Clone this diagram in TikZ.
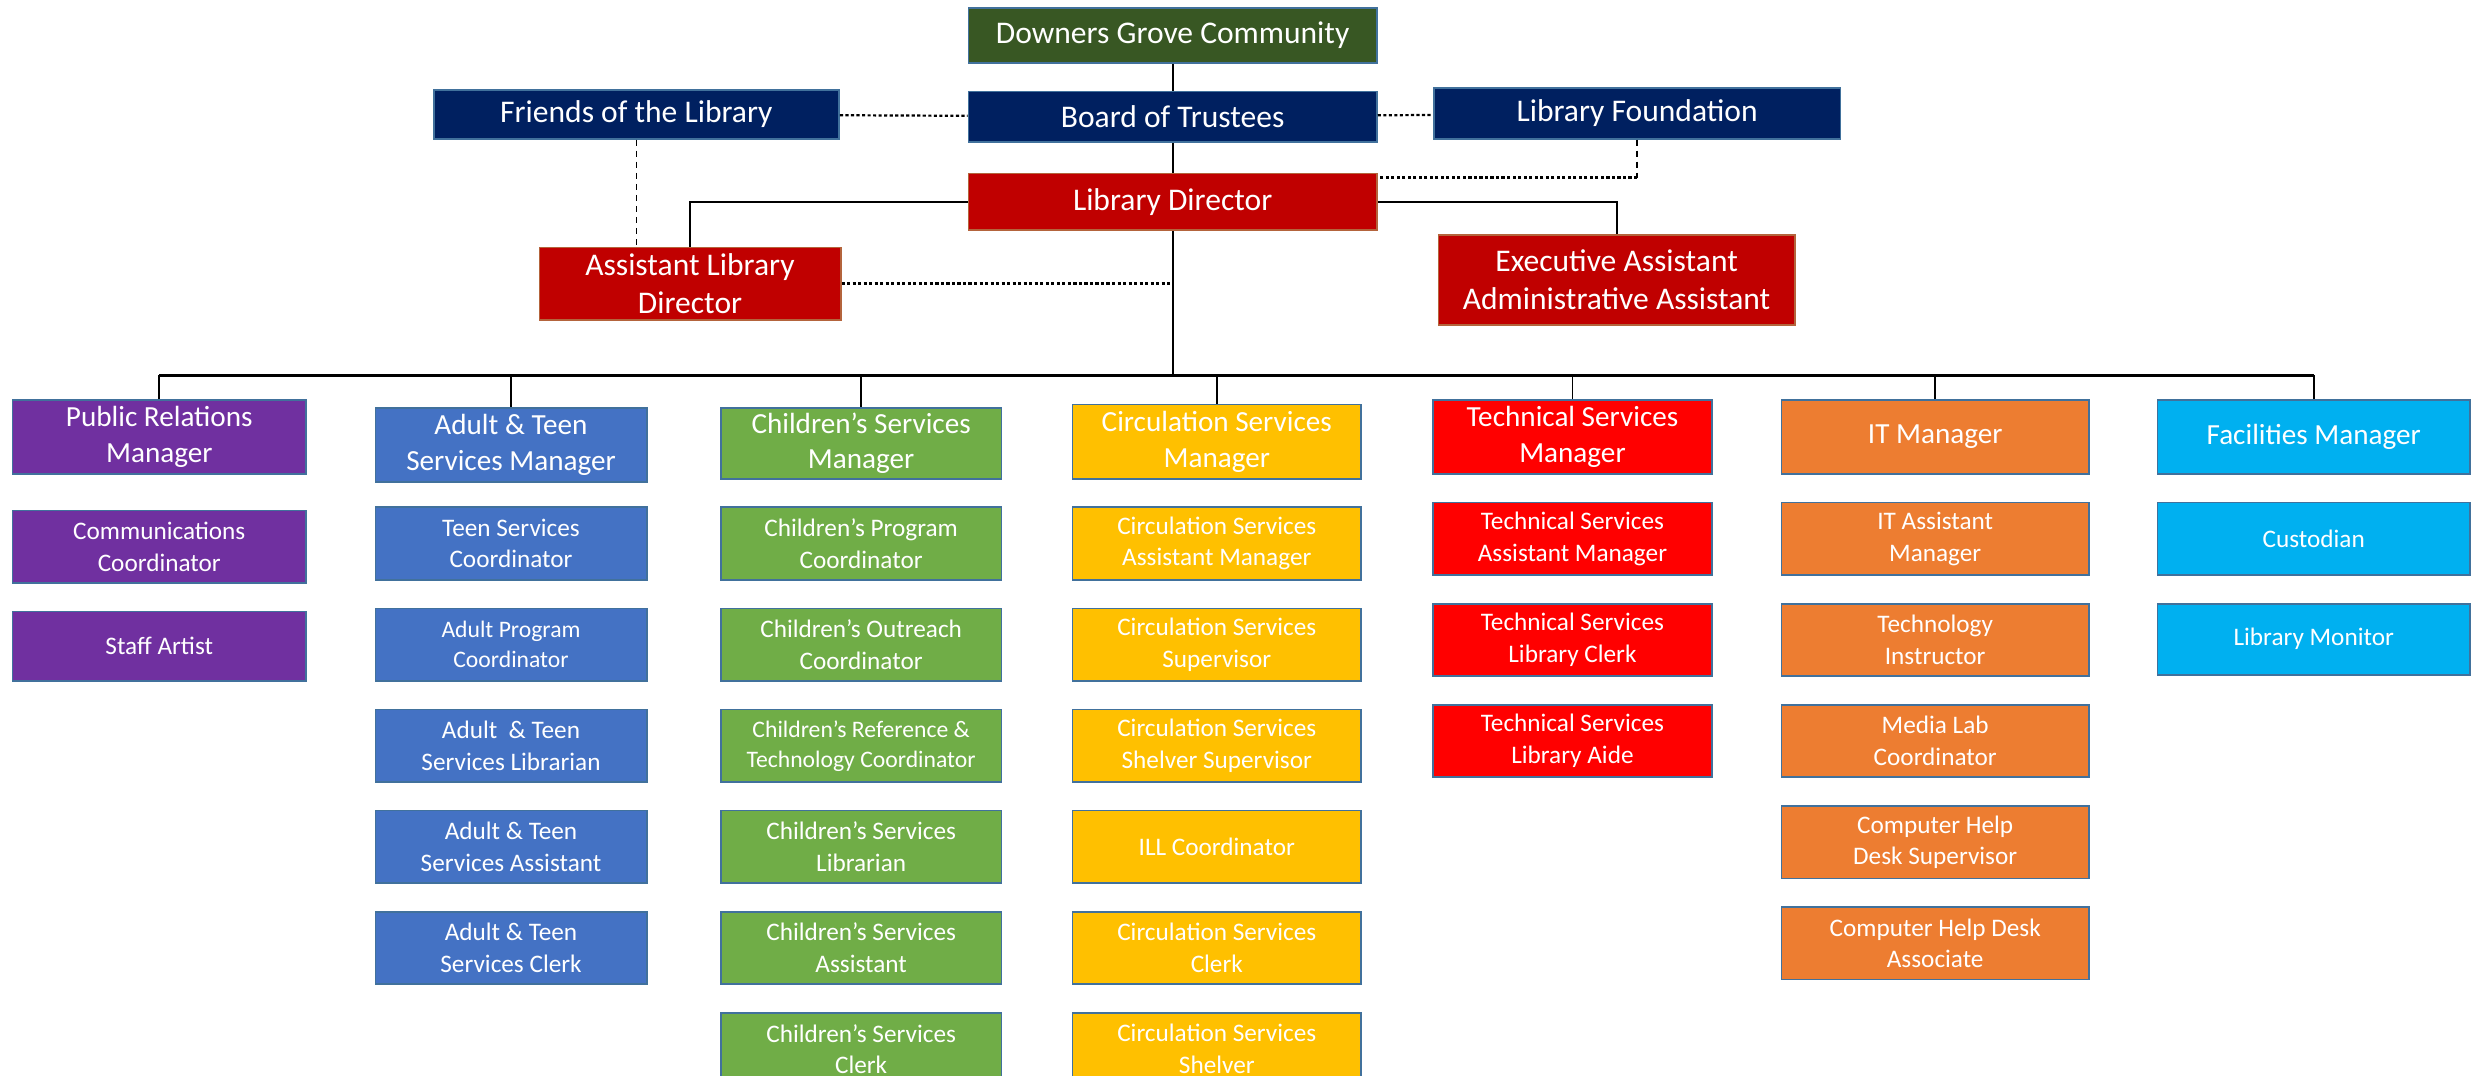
\documentclass[tikz,border=0pt]{standalone}
\usepackage{fontspec}
\setmainfont{Carlito}
\usetikzlibrary{positioning}

\definecolor{grovegreen}{HTML}{385723}
\definecolor{trustnavy}{HTML}{002060}
\definecolor{directred}{HTML}{C00000}
\definecolor{directedge}{HTML}{B4643C}
\definecolor{boxedge}{HTML}{41719C}
\definecolor{prpurple}{HTML}{7030A0}
\definecolor{adultblue}{HTML}{4472C4}
\definecolor{childgreen}{HTML}{70AD47}
\definecolor{circgold}{HTML}{FFC000}
\definecolor{techred}{HTML}{FF0000}
\definecolor{itorange}{HTML}{ED7D31}
\definecolor{faccyan}{HTML}{00B0F0}

\begin{document}
\begin{tikzpicture}[x=1pt, y=-1pt,
			node distance=17pt,
			box/.style={rectangle, draw=boxedge, line width=1.1pt, text=white, align=center, inner sep=1pt},
			top/.style={box, minimum width=259pt, font=\fontsize{20}{24}\selectfont},
			head/.style={box, minimum height=47pt, font=\fontsize{18.5}{22.5}\selectfont},
			staff/.style={box, minimum height=46pt, font=\fontsize{16}{20}\selectfont},
			small/.style={font=\fontsize{15}{19}\selectfont},
			pr/.style={fill=prpurple, minimum width=186pt},
			adult/.style={fill=adultblue, minimum width=172pt},
			child/.style={fill=childgreen, minimum width=178pt},
			circ/.style={fill=circgold, minimum width=183pt},
			tech/.style={fill=techred, minimum width=177pt},
			itdept/.style={fill=itorange, minimum width=195pt},
			fac/.style={fill=faccyan, minimum width=198pt},
			line/.style={line width=1.2pt},
			dotline/.style={line width=1.4pt, dash pattern=on 2pt off 1.5pt},
			dashline/.style={line width=0.8pt, dash pattern=on 4pt off 3pt},
			]
			\useasboundingbox (0,0) rectangle (1568,682);

			% Nodes
			\node (community) [top, fill=grovegreen, minimum height=35pt] at (743.5,22.5) {Downers Grove Community};
			\node (board) [top, fill=trustnavy, minimum height=32pt] at (743.5,74) {Board of Trustees};
			\node (friends) [top, fill=trustnavy, minimum width=257pt, minimum height=31pt] at (403.5,72.5) {Friends of the Library};
			\node (foundation) [top, fill=trustnavy, minimum width=258pt, minimum height=32pt] at (1038,72) {Library Foundation};
			\node (director) [top, fill=directred, draw=directedge, minimum height=36pt] at (743.5,128) {Library Director};
			\node (assistant) [top, fill=directred, draw=directedge, minimum width=191pt, minimum height=46pt] at (437.5,180) {Assistant Library\\Director};
			\node (exec) [top, fill=directred, draw=directedge, minimum width=226pt, minimum height=57pt] at (1025,177.5) {Executive Assistant\\Administrative Assistant};

			% Public relations
			\node (prmgr) [head, pr, anchor=north] at (101,253) {Public Relations\\Manager};
			\node (comms) [staff, pr, below=22pt of prmgr] {Communications\\Coordinator};
			\node (artist) [staff, pr, minimum height=44pt, below=of comms] {Staff Artist};

			% Adult & teen
			\node (adultmgr) [head, adult, anchor=north] at (324,258) {Adult \& Teen\\Services Manager};
			\node (teencoord) [staff, adult, below=15pt of adultmgr] {Teen Services\\Coordinator};
			\node (adultprog) [staff, adult, small, below=of teencoord] {Adult Program\\Coordinator};
			\node (adultlib) [staff, adult, below=of adultprog] {Adult \ \& Teen\\Services Librarian};
			\node (adultasst) [staff, adult, below=of adultlib] {Adult \& Teen\\Services Assistant};
			\node (adultclerk) [staff, adult, below=of adultasst] {Adult \& Teen\\Services Clerk};

			% Children's
			\node (childmgr) [head, child, minimum height=45pt, anchor=north] at (546,258) {Children’s Services\\Manager};
			\node (childprog) [staff, child, below=of childmgr] {Children’s Program\\Coordinator};
			\node (childout) [staff, child, below=of childprog] {Children’s Outreach\\Coordinator};
			\node (childref) [staff, child, small, below=of childout] {Children’s Reference \&\\Technology Coordinator};
			\node (childlib) [staff, child, below=of childref] {Children’s Services\\Librarian};
			\node (childasst) [staff, child, below=of childlib] {Children’s Services\\Assistant};
			\node (childclerk) [staff, child, below=of childasst] {Children’s Services\\Clerk};

			% Circulation
			\node (circmgr) [head, circ, anchor=north] at (771.5,256) {Circulation Services\\Manager};
			\node (circasst) [staff, circ, below=of circmgr] {Circulation Services\\Assistant Manager};
			\node (circsup) [staff, circ, below=of circasst] {Circulation Services\\Supervisor};
			\node (shelvsup) [staff, circ, below=of circsup] {Circulation Services\\Shelver Supervisor};
			\node (ill) [staff, circ, below=of shelvsup] {ILL Coordinator};
			\node (circclerk) [staff, circ, below=of ill] {Circulation Services\\Clerk};
			\node (shelver) [staff, circ, below=of circclerk] {Circulation Services\\Shelver};

			% Technical
			\node (techmgr) [head, tech, anchor=north] at (997,253) {Technical Services\\Manager};
			\node (techasst) [staff, tech, below=of techmgr] {Technical Services\\Assistant Manager};
			\node (techclerk) [staff, tech, below=of techasst] {Technical Services\\Library Clerk};
			\node (techaide) [staff, tech, below=of techclerk] {Technical Services\\Library Aide};

			% IT
			\node (itmgr) [head, itdept, anchor=north] at (1227,253) {IT Manager};
			\node (itasst) [staff, itdept, below=of itmgr] {IT Assistant\\Manager};
			\node (instructor) [staff, itdept, below=of itasst] {Technology\\Instructor};
			\node (medialab) [staff, itdept, below=of instructor] {Media Lab\\Coordinator};
			\node (helpsup) [staff, itdept, below=of medialab] {Computer Help\\Desk Supervisor};
			\node (helpassoc) [staff, itdept, below=of helpsup] {Computer Help Desk\\Associate};

			% Facilities
			\node (facmgr) [head, fac, anchor=north] at (1467,253) {Facilities Manager};
			\node (custodian) [staff, fac, below=of facmgr] {Custodian};
			\node (monitor) [staff, fac, minimum height=45pt, below=of custodian] {Library Monitor};

			% Lines
			\draw[line] (community) -- (board);
			\draw[line] (board) -- (director);
			\draw[dotline] (friends) -- (board);
			\draw[dotline] (board) -- (foundation);
			\draw[dashline] (friends.south) -- (friends.south |- assistant.north);
			\draw[dashline] (foundation.south) -- ++(0,24) coordinate (fdnturn);
			\draw[dotline] (fdnturn) -- (fdnturn -| director.east);
			\draw[line] (director.west) -| (assistant.north);
			\draw[line] (director.east) -| (exec.north);
			\draw[dotline, line width=1.8pt] (assistant.east) -- (assistant.east -| director.south);
			\coordinate (bus) at (743.5,238);
			\draw[line] (director.south) -- (bus);
			\draw[line width=1.6pt] (prmgr.north |- bus) -- (facmgr.north |- bus);
			\foreach \h in {prmgr, adultmgr, childmgr, circmgr, techmgr, itmgr, facmgr}
				\draw[line] (\h.north) -- (\h.north |- bus);
		\end{tikzpicture}
\end{document}
